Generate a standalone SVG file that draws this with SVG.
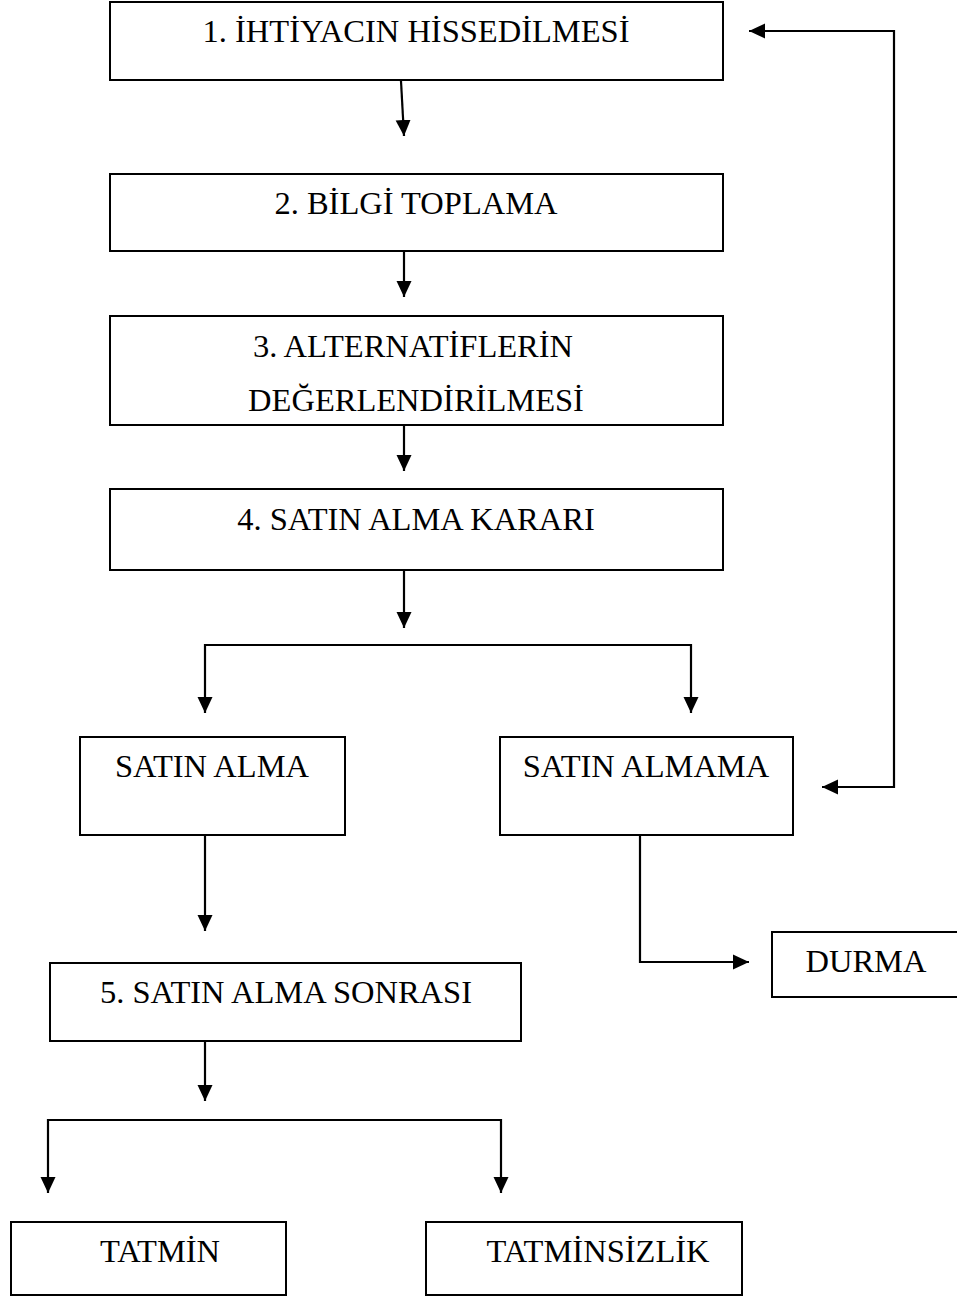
<svg xmlns="http://www.w3.org/2000/svg" width="957" height="1297" viewBox="0 0 957 1297">
<style>
.box{fill:#fff;stroke:#000;stroke-width:2}
.t{font-family:"Liberation Serif","Times New Roman",serif;font-size:32.5px;fill:#000;text-anchor:middle}
.c{fill:none;stroke:#000;stroke-width:2.2}
</style>
<defs>
<marker id="ah" markerUnits="userSpaceOnUse" markerWidth="17" markerHeight="17" viewBox="0 0 17 17" refX="16" refY="8.5" orient="auto">
<path d="M0,1 L16,8.5 L0,16 z" fill="#000"/>
</marker>
</defs>
<rect width="957" height="1297" fill="#fff"/>
<g id="n1"><rect class="box" x="110" y="2" width="613" height="78"/><text class="t" x="416" y="42">1. İHTİYACIN HİSSEDİLMESİ</text></g>
<g id="n2"><rect class="box" x="110" y="174" width="613" height="77"/><text class="t" x="416" y="214">2. BİLGİ TOPLAMA</text></g>
<g id="n3"><rect class="box" x="110" y="316" width="613" height="109"/><text class="t" x="413" y="357">3. ALTERNATİFLERİN</text><text class="t" x="416" y="411">DEĞERLENDİRİLMESİ</text></g>
<g id="n4"><rect class="box" x="110" y="489" width="613" height="81"/><text class="t" x="416" y="530">4. SATIN ALMA KARARI</text></g>
<g id="n5"><rect class="box" x="80" y="737" width="265" height="98"/><text class="t" x="212" y="777">SATIN ALMA</text></g>
<g id="n6"><rect class="box" x="500" y="737" width="293" height="98"/><text class="t" x="646" y="777">SATIN ALMAMA</text></g>
<g id="n7"><rect class="box" x="772" y="932" width="195" height="65"/><text class="t" x="866" y="972">DURMA</text></g>
<g id="n8"><rect class="box" x="50" y="963" width="471" height="78"/><text class="t" x="286" y="1003">5. SATIN ALMA SONRASI</text></g>
<g id="n9"><rect class="box" x="11" y="1222" width="275" height="73"/><text class="t" x="160" y="1262">TATMİN</text></g>
<g id="n10"><rect class="box" x="426" y="1222" width="316" height="73"/><text class="t" x="598" y="1262">TATMİNSİZLİK</text></g>
<g id="connectors">
<path class="c" d="M401,81 L404,136" marker-end="url(#ah)"/>
<path class="c" d="M404,252 L404,297" marker-end="url(#ah)"/>
<path class="c" d="M404,426 L404,471" marker-end="url(#ah)"/>
<path class="c" d="M404,571 L404,628" marker-end="url(#ah)"/>
<path class="c" d="M448,645 L205,645 L205,713" marker-end="url(#ah)"/>
<path class="c" d="M448,645 L691,645 L691,713" marker-end="url(#ah)"/>
<path class="c" d="M205,836 L205,931" marker-end="url(#ah)"/>
<path class="c" d="M640,836 L640,962 L749,962" marker-end="url(#ah)"/>
<path class="c" d="M894,400 L894,31 L749,31" marker-end="url(#ah)"/>
<path class="c" d="M894,400 L894,787 L822,787" marker-end="url(#ah)"/>
<path class="c" d="M205,1042 L205,1101" marker-end="url(#ah)"/>
<path class="c" d="M270,1120 L48,1120 L48,1193" marker-end="url(#ah)"/>
<path class="c" d="M270,1120 L501,1120 L501,1193" marker-end="url(#ah)"/>
</g>
</svg>
